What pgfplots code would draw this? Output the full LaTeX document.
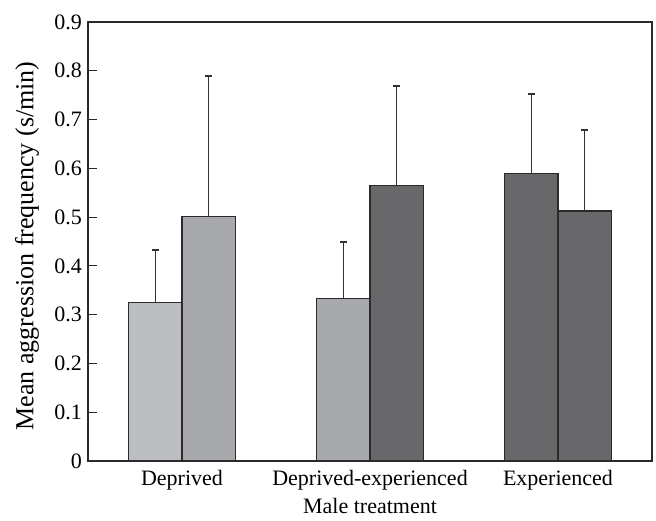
\documentclass[border=0pt]{standalone}
\usepackage{pgfplots}
\pgfplotsset{compat=1.18}
\usepackage{fontspec}
\setmainfont{Liberation Serif}
\definecolor{lightg}{HTML}{BDBEC2}
\definecolor{medg}{HTML}{A8A9AD}
\definecolor{darkg}{HTML}{68686A}
\definecolor{edgec}{HTML}{2A2A2A}
\definecolor{errc}{HTML}{333333}
\begin{document}
\begin{tikzpicture}
\begin{axis}[
  scale only axis,
  width=282pt, height=219.5pt,
  xmin=-0.5, xmax=2.5,
  ymin=0, ymax=0.9,
  ytick={0,0.1,...,0.9},
  yticklabels={0,0.1,0.2,0.3,0.4,0.5,0.6,0.7,0.8,0.9},
  xtick={0,1,2},
  xticklabels={Deprived,Deprived-experienced,Experienced},
  major x tick style={draw=none},
  extra x ticks={0.5,1.5},
  extra x tick labels={},
  extra x tick style={major tick length=4.5pt, tick style={draw=edgec}},
  xtick pos=bottom, ytick pos=left,
  tick align=inside,
  major tick length=4.5pt,
  tick style={edgec, line width=0.6pt},
  axis line style={edgec, line width=0.6pt},
  ticklabel style={font=\fontsize{11}{13}\selectfont},
  yticklabel style={xshift=0.5pt},
  xticklabel style={yshift=3.5pt},
  /pgf/number format/assume math mode=true,
  xlabel={Male treatment},
  ylabel={Mean aggression frequency (s/min)},
  xlabel style={font=\fontsize{11}{13}\selectfont, at={(axis description cs:0.5,-0.103)}, anchor=center},
  ylabel style={font=\fontsize{13}{15}\selectfont, at={(axis description cs:-0.108,0.49)}, anchor=center},
  ybar, bar width=0.283,
  clip=false,
  error bars/y dir=plus, error bars/y explicit,
  error bars/error mark options={rotate=90, mark size=1.6pt, line width=0.9pt},
  error bars/error bar style={errc, line width=0.8pt},
]
\addplot[fill=lightg, draw=edgec, line width=0.6pt, bar shift=-0.1415] coordinates {(0,0.3245) +- (0,0.108)};
\addplot[fill=medg, draw=edgec, line width=0.6pt, bar shift=0.1415] coordinates {(0,0.501) +- (0,0.288)};
\addplot[fill=medg, draw=edgec, line width=0.6pt, bar shift=-0.1415] coordinates {(1,0.3335) +- (0,0.1155)};
\addplot[fill=darkg, draw=edgec, line width=0.6pt, bar shift=0.1415] coordinates {(1,0.565) +- (0,0.204)};
\addplot[fill=darkg, draw=edgec, line width=0.6pt, bar shift=-0.1415] coordinates {(2,0.589) +- (0,0.163)};
\addplot[fill=darkg, draw=edgec, line width=0.6pt, bar shift=0.1415] coordinates {(2,0.5125) +- (0,0.1655)};
\path (rel axis cs:-0.156,-0.1298) rectangle (rel axis cs:1.0071,1.0501);
\end{axis}
\end{tikzpicture}
\end{document}
